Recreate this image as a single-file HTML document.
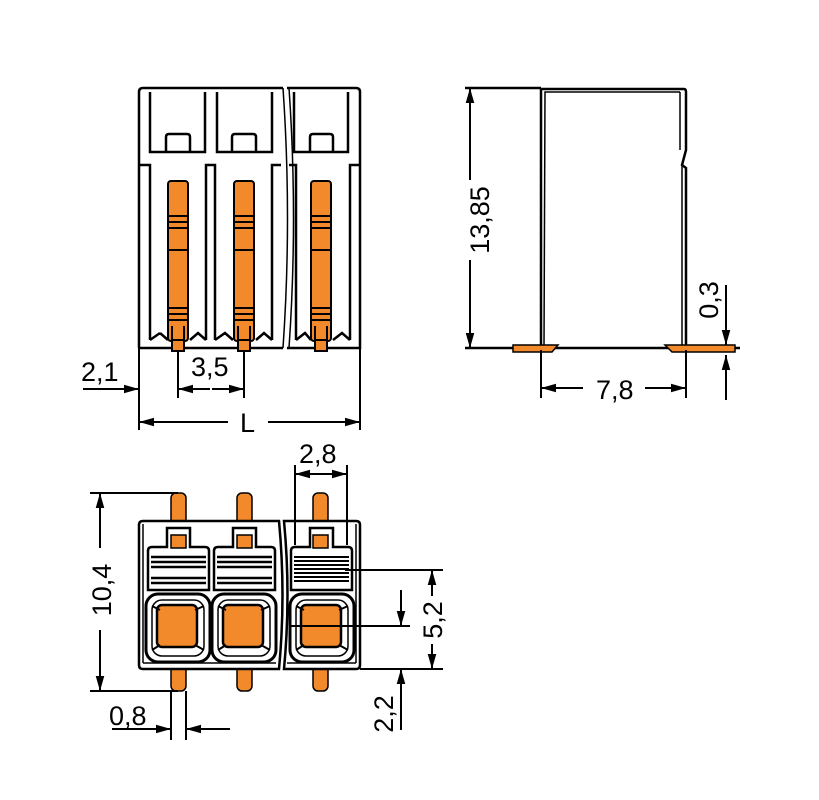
<!DOCTYPE html>
<html><head><meta charset="utf-8"><style>
html,body{margin:0;padding:0;background:#fff;}
svg{display:block}
text{font-family:"Liberation Sans",sans-serif;font-size:27px;fill:#000}
</style></head><body>
<svg width="819" height="800" viewBox="0 0 819 800" xmlns="http://www.w3.org/2000/svg">
<defs>
<marker id="a" viewBox="0 0 14 8" refX="14" refY="4" markerWidth="15" markerHeight="9" markerUnits="userSpaceOnUse" orient="auto">
<path d="M0,0 L14,4 L0,8 z" fill="#000"/></marker>
</defs>
<g stroke="#000" stroke-width="2.5" fill="none">
<!-- TOP VIEW -->
<path d="M139,92 Q139,88 143,88 L283,88 M287,88 L356,88 Q360,88 360,92 L360,348 L287,348 M283,348 L139,348 Z"/>
<path d="M139,348 L139,92"/>
<path d="M283,88 Q292,218 283,348 M289,88 Q298,218 289,348" stroke-width="1.5"/>
<g stroke-width="2.5">
<path d="M150,92 V152 H205 V92 M217,92 V152 H272 V92 M294,92 V152 H348 V92"/>
<path d="M166,152 V137 Q166,134 169,134 H187 Q190,134 190,137 V152"/>
<path d="M232,152 V137 Q232,134 235,134 H253 Q256,134 256,137 V152"/>
<path d="M310,152 V137 Q310,134 313,134 H330 Q333,134 333,137 V152"/>
<path d="M139,165 H150 V340 M206,340 V165 H215 V340 M272,340 V165 H281 M289,165 H296 V340 M350,340 V165 H360"/>
<path d="M150,340 L160,333 M168,340 L160,333 M190,340 L198,333 L206,340 M215,340 L225,333 L233,340 M256,340 L264,333 L272,340 M296,340 L305,333 L311,340 M333,340 L342,333 L350,340"/>
</g>
</g>
<g fill="#f28a2c" stroke="#000" stroke-width="2">
<rect x="168" y="181" width="20" height="160" rx="3"/>
<rect x="234" y="181" width="20" height="160" rx="3"/>
<rect x="311" y="181" width="20" height="160" rx="3"/>
<rect x="172" y="340" width="12" height="11"/>
<rect x="238" y="340" width="12" height="11"/>
<rect x="315" y="340" width="12" height="11"/>
</g>
<g stroke="#000" stroke-width="2">
<path d="M168,216 H188 M168,222 H188 M168,228 H188 M168,250 H188 M168,308 H188 M168,314 H188 M168,320 H188 M172,326 V340 M184,326 V340"/>
<path d="M234,216 H254 M234,222 H254 M234,228 H254 M234,250 H254 M234,308 H254 M234,314 H254 M234,320 H254 M238,326 V340 M250,326 V340"/>
<path d="M311,216 H331 M311,222 H331 M311,228 H331 M311,250 H331 M311,308 H331 M311,314 H331 M311,320 H331 M315,326 V340 M327,326 V340"/>
</g>
<!-- top dims -->
<g stroke="#000" stroke-width="2" fill="none">
<path d="M139,348 V430 M360,348 V430 M178,350 V398 M244,350 V398"/>
<path d="M83,389 H139" marker-end="url(#a)"/>
<path d="M210,389 H178" marker-end="url(#a)"/>
<path d="M212,389 H244" marker-end="url(#a)"/>
<path d="M228,422 H139" marker-end="url(#a)"/>
<path d="M268,422 H360" marker-end="url(#a)"/>
</g>
<text x="81" y="381">2,1</text>
<text x="191" y="376">3,5</text>
<text x="240" y="432">L</text>

<!-- SIDE VIEW -->
<g stroke="#000" stroke-width="2.5" fill="none">
<path d="M541,348 V89 H684 Q686,89 686,92 V150 L682,165 L686,168 V348"/>
<path d="M544,348 L545,92 H680 M680,92 V150 M682,165 L682,348" stroke-width="1.5"/>
<path d="M465,88 H541 M465,348 H740"/>
</g>
<g fill="#f28a2c" stroke="#000" stroke-width="1.5">
<path d="M513,345 H558 L552,352 H513 Z"/>
<path d="M665,345 H735 V352 H672 Z"/>
</g>
<g stroke="#000" stroke-width="2" fill="none">
<path d="M470,180 V88" marker-end="url(#a)"/>
<path d="M470,260 V348" marker-end="url(#a)"/>
<path d="M541,350 V398 M686,350 V398"/>
<path d="M583,388 H541" marker-end="url(#a)"/>
<path d="M645,388 H686" marker-end="url(#a)"/>
<path d="M726,285 V345" marker-end="url(#a)"/>
<path d="M726,400 V355" marker-end="url(#a)"/>
</g>
<text transform="translate(489,220) rotate(-90)" text-anchor="middle">13,85</text>
<text transform="translate(718,300) rotate(-90)" text-anchor="middle">0,3</text>
<text x="596" y="399">7,8</text>

<!-- BOTTOM VIEW -->
<g fill="#f28a2c" stroke="#000" stroke-width="1.5">
<rect x="171" y="493" width="15" height="198" rx="5"/>
<rect x="237" y="493" width="15" height="198" rx="5"/>
<rect x="313" y="493" width="15" height="198" rx="5"/>
</g>
<g stroke="#000" stroke-width="2.5" fill="#fff">
<path d="M143,521 H279 Q286,595 279,669 H143 Q139,669 139,665 V525 Q139,521 143,521 Z"/>
<path d="M284,521 H356 Q360,521 360,525 V665 Q360,669 356,669 H284 Q291,595 284,521 Z"/>
</g>
<g stroke="#000" stroke-width="2.5" fill="none">
<path d="M143,524 V663 M356,524 V663 M143,663 H276 M287,663 H356" stroke-width="1.5"/>
<path d="M148,590 V551 Q148,547 152,547 H167 V528 H190 V547 H205 Q209,547 209,551 V590 Z"/>
<path d="M214,590 V551 Q214,547 218,547 H233 V528 H256 V547 H271 Q275,547 275,551 V590 Z"/>
<path d="M291,590 V551 Q291,547 295,547 H310 V528 H333 V547 H348 Q352,547 352,551 V590 Z"/>
</g>
<g fill="#f28a2c" stroke="#000" stroke-width="1.5">
<rect x="171" y="535" width="15" height="13"/>
<rect x="237" y="535" width="15" height="13"/>
<rect x="313" y="535" width="15" height="13"/>
</g>
<g stroke="#000" stroke-width="2.5">
<path d="M151,557 H206 M151,562 H206 M151,567 H206 M151,578 H206 M151,583 H206"/>
<path d="M217,557 H272 M217,562 H272 M217,567 H272 M217,578 H272 M217,583 H272"/>
<path d="M294,557 H349 M294,561 H349 M294,565 H349 M294,569 H349 M294,573 H349 M294,577 H349 M294,581 H349" stroke-width="2"/>
</g>
<g stroke="#000" fill="#fff">
<rect x="146" y="594" width="64" height="68" rx="12" stroke-width="3"/>
<rect x="152" y="600" width="52" height="56" rx="10" stroke-width="1.5"/>
<rect x="212" y="594" width="64" height="68" rx="12" stroke-width="3"/>
<rect x="218" y="600" width="52" height="56" rx="10" stroke-width="1.5"/>
<rect x="290" y="594" width="64" height="68" rx="12" stroke-width="3"/>
<rect x="296" y="600" width="52" height="56" rx="10" stroke-width="1.5"/>
</g>
<g fill="#f28a2c" stroke="#000" stroke-width="2.5">
<rect x="157" y="605" width="40" height="42" rx="5"/>
<rect x="223" y="605" width="40" height="42" rx="5"/>
<rect x="301" y="605" width="40" height="42" rx="5"/>
</g>
<g stroke="#000" stroke-width="2">
<path d="M152,606 L160,610 M204,606 L195,610 M152,650 L160,645 M204,650 L195,645"/>
<path d="M218,606 L226,610 M270,606 L261,610 M218,650 L226,645 M270,650 L261,645"/>
<path d="M296,606 L304,610 M348,606 L339,610 M296,650 L304,645 M348,650 L339,645"/>
</g>
<g stroke="#000" stroke-width="2" fill="none">
<path d="M90,493 H178 M90,691 H178"/>
<path d="M100,548 V493" marker-end="url(#a)"/>
<path d="M100,630 V691" marker-end="url(#a)"/>
<path d="M171,691 V740 M186,691 V740"/>
<path d="M112,729 H171" marker-end="url(#a)"/>
<path d="M230,729 H186" marker-end="url(#a)"/>
<path d="M295,465 V545 M347,465 V545"/>
<path d="M321,474 H295" marker-end="url(#a)"/>
<path d="M321,474 H347" marker-end="url(#a)"/>
<path d="M345,570 H443 M290,626 H410 M360,669 H443"/>
<path d="M432,596 V570" marker-end="url(#a)"/>
<path d="M432,644 V669" marker-end="url(#a)"/>
<path d="M401,590 V626" marker-end="url(#a)"/>
<path d="M401,730 V669" marker-end="url(#a)"/>
</g>
<text transform="translate(111,590) rotate(-90)" text-anchor="middle">10,4</text>
<text x="109" y="725">0,8</text>
<text x="299" y="463">2,8</text>
<text transform="translate(442,620) rotate(-90)" text-anchor="middle">5,2</text>
<text transform="translate(393,714) rotate(-90)" text-anchor="middle">2,2</text>
</svg>
</body></html>
